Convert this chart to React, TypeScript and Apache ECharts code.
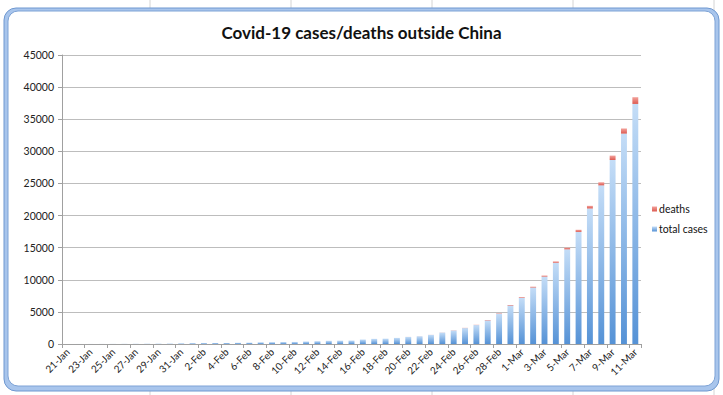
import React, { useEffect, useRef } from "react";
import * as echarts from "echarts";

const categories = [
  "21-Jan","22-Jan","23-Jan","24-Jan","25-Jan","26-Jan","27-Jan","28-Jan","29-Jan","30-Jan","31-Jan",
  "1-Feb","2-Feb","3-Feb","4-Feb","5-Feb","6-Feb","7-Feb","8-Feb","9-Feb","10-Feb",
  "11-Feb","12-Feb","13-Feb","14-Feb","15-Feb","16-Feb","17-Feb","18-Feb","19-Feb","20-Feb",
  "21-Feb","22-Feb","23-Feb","24-Feb","25-Feb","26-Feb","27-Feb","28-Feb","29-Feb",
  "1-Mar","2-Mar","3-Mar","4-Mar","5-Mar","6-Mar","7-Mar","8-Mar","9-Mar","10-Mar","11-Mar",
];

const totalCases = [
  4, 6, 8, 12, 20, 30, 40, 56, 68, 82, 106,
  132, 146, 153, 159, 191, 216, 270, 288, 307, 319,
  395, 441, 500, 520, 540, 700, 800, 830, 950, 1100,
  1200, 1420, 1780, 2100, 2480, 2950, 3680, 4720, 6000,
  7200, 8800, 10500, 12650, 14740, 17450, 21100, 24700, 28650, 32760, 37380,
];

const deaths = [
  0, 0, 0, 0, 0, 0, 0, 0, 0, 0, 0,
  0, 1, 1, 1, 1, 1, 1, 1, 1, 1,
  1, 1, 2, 2, 2, 3, 3, 3, 3, 8,
  8, 11, 16, 23, 34, 44, 57, 67, 86,
  104, 128, 166, 214, 267, 335, 413, 484, 686, 800, 1050,
];

const yTicks = { min: 0, max: 45000, interval: 5000 };

const FONT = "Lato, 'Liberation Sans', sans-serif";

export default function App() {
  const ref = useRef<HTMLDivElement>(null);
  useEffect(() => {
    if (!ref.current) return;
    const chart = echarts.init(ref.current, null, { renderer: "svg" });
    const blueGrad = new echarts.graphic.LinearGradient(0, 0, 0, 1, [
      { offset: 0, color: "#c4ddf7" },
      { offset: 1, color: "#5592d6" },
    ]);
    const redGrad = new echarts.graphic.LinearGradient(0, 0, 0, 1, [
      { offset: 0, color: "#f3a29b" },
      { offset: 1, color: "#dc5a52" },
    ]);
    const sheetLines: any[] = [];
    [150, 291, 432, 573, 714].forEach((x) =>
      sheetLines.push({
        type: "line",
        shape: { x1: x, y1: 0, x2: x, y2: 395 },
        style: { stroke: "#d4d4d4", lineWidth: 1 },
        z: -10,
      })
    );
    chart.setOption({
      animation: false,
      backgroundColor: "#ffffff",
      graphic: [
        ...sheetLines,
        {
          type: "rect",
          shape: { x: 4, y: 8, width: 715, height: 383, r: 12 },
          style: { fill: "#a8c5ec", stroke: "#6f98d0", lineWidth: 1 },
          z: -9,
        },
        {
          type: "rect",
          shape: { x: 8, y: 11, width: 707, height: 375, r: 10 },
          style: { fill: "#ffffff", stroke: "#7ea3d6", lineWidth: 1 },
          z: -8,
        },
      ],
      title: {
        text: "Covid-19 cases/deaths outside China",
        left: "center",
        top: 19,
        textStyle: {
          fontFamily: FONT,
          fontWeight: "bold",
          fontSize: 17,
          color: "#111",
        },
      },
      legend: {
        data: ["deaths", "total cases"],
        orient: "vertical",
        left: 647,
        top: 198,
        itemWidth: 5,
        itemHeight: 5,
        itemGap: 8,
        icon: "rect",
        textStyle: { fontFamily: FONT, fontSize: 10.5, color: "#111", lineHeight: 12, padding: [0, 0, 0, -3] },
      },
      grid: { left: 62, right: 82, top: 55, bottom: 51, containLabel: false },
      xAxis: {
        type: "category",
        data: categories,
        boundaryGap: true,
        axisLine: { lineStyle: { color: "#a0a0a0" } },
        axisTick: { show: true, interval: 1, length: 4, lineStyle: { color: "#a0a0a0" } },
        axisLabel: {
          interval: 1,
          rotate: 45,
          fontSize: 10,
          fontFamily: FONT,
          color: "#222",
          margin: 6,
        },
      },
      yAxis: {
        type: "value",
        min: yTicks.min,
        max: yTicks.max,
        interval: yTicks.interval,
        axisLine: { show: true, lineStyle: { color: "#a0a0a0" } },
        axisTick: { show: true, length: 4, lineStyle: { color: "#a0a0a0" } },
        axisLabel: {
          fontSize: 10.5,
          fontFamily: FONT,
          color: "#222",
          margin: 8,
          formatter: (v: number) => String(v),
        },
        splitLine: { lineStyle: { color: "#bdbdbd", width: 1 } },
      },
      series: [
        {
          name: "total cases",
          type: "bar",
          stack: "s",
          data: totalCases,
          barWidth: "52%",
          itemStyle: { color: blueGrad },
        },
        {
          name: "deaths",
          type: "bar",
          stack: "s",
          data: deaths,
          barWidth: "52%",
          itemStyle: { color: redGrad },
        },
      ],
      color: ["#5f9ae0", "#e06a62"],
    });
    return () => chart.dispose();
  }, []);
  return (
    <div
      ref={ref}
      style={{ position: "fixed", left: 0, top: 0, width: 723, height: 395 }}
    />
  );
}
